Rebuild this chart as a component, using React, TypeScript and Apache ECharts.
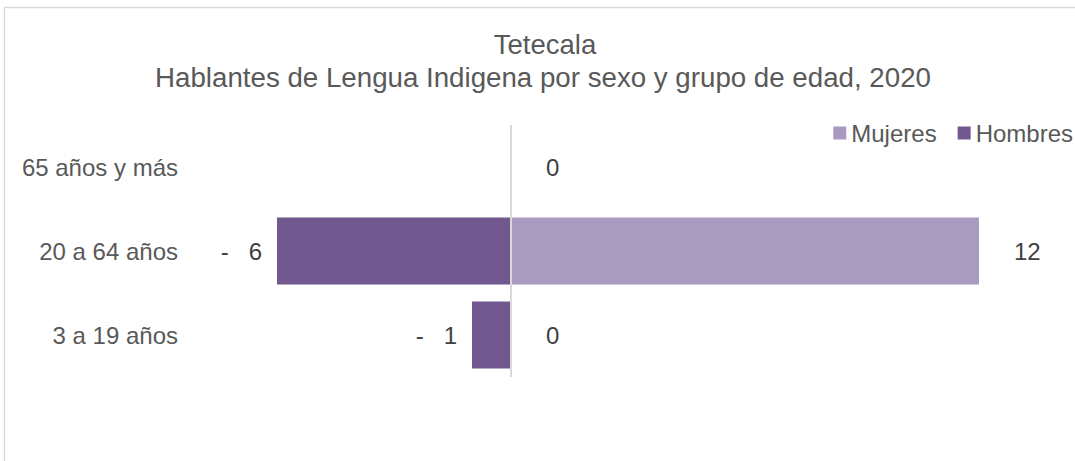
import React, { useEffect, useRef } from "react";
import * as echarts from "echarts";

const titleLine = "Tetecala";
const subtitleLine = "Hablantes de Lengua Indigena por sexo y grupo de edad, 2020";
const categories = ["3 a 19 años", "20 a 64 años", "65 años y más"];
const mujeres = [0, 12, 0];
const hombres: (number | null)[] = [-1, -6, null];
const seriesNames = ["Mujeres", "Hombres"];

const FONT = '"Liberation Sans", Arial, Helvetica, sans-serif';

export default function App() {
  const ref = useRef<HTMLDivElement>(null);
  useEffect(() => {
    if (!ref.current) return;
    const chart = echarts.init(ref.current, null, { renderer: "svg" });
    chart.setOption({
      animation: false,
      backgroundColor: "#ffffff",
      textStyle: { fontFamily: FONT },
      graphic: [
        {
          type: "rect",
          shape: { x: 4.5, y: 7.5, width: 1200, height: 600 },
          style: { fill: "none", stroke: "#d9d9d9", lineWidth: 1.5 },
          silent: true,
        },
        {
          type: "text",
          x: 545,
          y: 44,
          style: {
            text: titleLine,
            fontFamily: FONT,
            fontSize: 27.5,
            fill: "#595959",
            textAlign: "center",
            textVerticalAlign: "middle",
          },
        },
        {
          type: "text",
          x: 543,
          y: 77,
          style: {
            text: subtitleLine,
            fontFamily: FONT,
            fontSize: 27.7,
            fill: "#595959",
            textAlign: "center",
            textVerticalAlign: "middle",
          },
        },
      ],
      legend: {
        data: seriesNames,
        right: 2,
        top: 121,
        padding: 0,
        itemWidth: 13,
        itemHeight: 13,
        itemGap: 21,
        icon: "rect",
        textStyle: { fontFamily: FONT, fontSize: 24, color: "#595959" },
      },
      grid: { left: 277, right: 96, top: 125, bottom: 84, containLabel: false },
      xAxis: {
        type: "value",
        min: -6,
        max: 12,
        show: false,
      },
      yAxis: {
        type: "category",
        data: categories,
        axisLine: { show: false, onZero: false },
        axisTick: { show: false },
        splitLine: { show: false },
        axisLabel: {
          margin: 99,
          fontFamily: FONT,
          fontSize: 24,
          color: "#595959",
        },
      },
      series: [
        {
          name: seriesNames[0],
          type: "bar",
          data: mujeres,
          barCategoryGap: "20%",
          barGap: "-100%",
          itemStyle: { color: "#A99ABF" },
          label: {
            show: true,
            position: "right",
            distance: 35,
            fontFamily: FONT,
            fontSize: 24,
            color: "#404040",
          },
          markLine: {
            silent: true,
            symbol: "none",
            label: { show: false },
            lineStyle: { color: "#d9d9d9", width: 2, type: "solid" },
            data: [{ xAxis: 0 }],
          },
        },
        {
          name: seriesNames[1],
          type: "bar",
          data: hombres,
          barCategoryGap: "20%",
          barGap: "-100%",
          itemStyle: { color: "#71588F" },
          label: {
            show: true,
            position: "left",
            distance: 15,
            fontFamily: FONT,
            fontSize: 24,
            color: "#404040",
            formatter: (p: any) =>
              p.value == null ? "" : "-   " + Math.abs(p.value),
          },
        },
      ],
    });
    return () => chart.dispose();
  }, []);
  return (
    <div
      ref={ref}
      style={{ position: "fixed", left: 0, top: 0, width: 1075, height: 461 }}
    />
  );
}
